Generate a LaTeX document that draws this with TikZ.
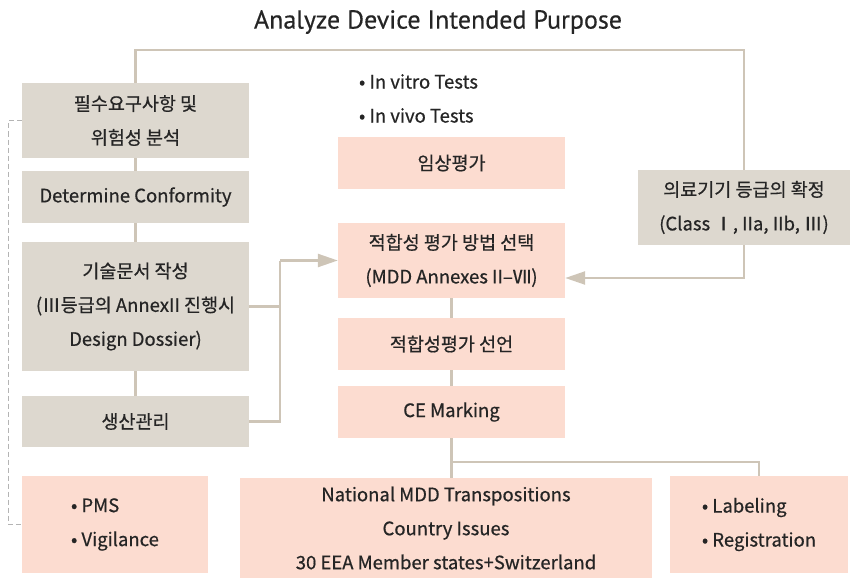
\documentclass[tikz,border=0pt]{standalone}
\usepackage{fontspec}
\setmainfont{Noto Sans CJK KR}[FakeBold=0.6]
\newfontfamily\titlefont{PT Sans}[FakeBold=0.4]
\usetikzlibrary{arrows.meta,calc}
\definecolor{boxgray}{HTML}{DDD8CF}
\definecolor{boxpink}{HTML}{FCDCD0}
\definecolor{linegray}{HTML}{CEC5B7}
\definecolor{dashgray}{HTML}{B4B4B4}
\definecolor{textgray}{HTML}{252525}
\tikzset{
  graybox/.style={fill=boxgray, text=textgray, align=center, inner sep=0pt, font=\fontsize{18.5}{34}\selectfont},
  pinkbox/.style={fill=boxpink, text=textgray, align=center, inner sep=0pt, font=\fontsize{18.5}{34}\selectfont},
  plaintext/.style={text=textgray, align=left, inner sep=0pt, font=\fontsize{18.5}{34}\selectfont},
  link/.style={draw=linegray, line width=2.4pt},
  linkarrow/.style={link, -{Triangle[length=20pt,width=13pt]}},
  dashlink/.style={draw=dashgray, line width=1.2pt, dash pattern=on 5pt off 3pt}
}

\begin{document}
\begin{tikzpicture}[x=1pt,y=-1pt]
		%%%%% START %%%%%
		\useasboundingbox (0,0) rectangle (856,583);
		
		\node[text=textgray, font=\titlefont\fontsize{26}{28}\selectfont] (title) at (438,22) {Analyze Device Intended Purpose};
		
		% left column
		\node[graybox, minimum width=227, minimum height=75] (req) at (135.5,120.5) {필수요구사항 및\\위험성 분석};
		\node[graybox, minimum width=227, minimum height=52] (conf) at (135.5,197) {Determine Conformity};
		\node[graybox, minimum width=227, minimum height=129] (doc) at (135.5,306.5) {기술문서 작성\\(Ⅲ등급의 AnnexII 진행시\\Design Dossier)};
		\node[graybox, minimum width=227, minimum height=51] (prod) at (135.5,421.5) {생산관리};
		
		% middle column
		\node[plaintext] (tests) at (418.5,98.5) {• In vitro Tests\\• In vivo Tests};
		\node[pinkbox, minimum width=227, minimum height=52] (clin) at (451.5,163) {임상평가};
		\node[pinkbox, minimum width=227, minimum height=75] (select) at (451.5,260.5) {적합성 평가 방법 선택\\(MDD Annexes II–Ⅶ)};
		\node[pinkbox, minimum width=227, minimum height=52] (decl) at (451.5,344) {적합성평가 선언};
		\node[pinkbox, minimum width=227, minimum height=52] (ce) at (451.5,412) {CE Marking};
		
		% right column
		\node[graybox, minimum width=212, minimum height=75] (cls) at (744,207.5) {의료기기 등급의 확정\\(Class Ⅰ, IIa, IIb, Ⅲ)};
		
		% bottom row
		\node[pinkbox, align=left, minimum width=186, minimum height=97] (pms) at (115,524.5) {• PMS\\• Vigilance};
		\node[pinkbox, minimum width=412, minimum height=100] (nat) at (446,528) {National MDD Transpositions\\Country Issues\\30 EEA Member states+Switzerland};
		\node[pinkbox, align=left, minimum width=178, minimum height=97] (lab) at (759,524.5) {• Labeling\\• Registration};
		
		\coordinate (join) at (280,260.5);
		\coordinate (split) at (451.5,462);
		
		% connectors
		\draw[link] (req.north) -- ++(0,-33) -| (cls.north);
		\draw[link] (req) -- (conf);
		\draw[link] (conf) -- (doc);
		\draw[link] (doc) -- (prod);
		\draw[link] (doc.east) -- (doc.east -| join);
		\draw[link] (prod.east) -| (join);
		\draw[linkarrow] (join) -- (select.west);
		\draw[linkarrow] (cls.south) |- ($(select.east)+(0,17.5)$);
		\draw[link] (select) -- (decl);
		\draw[link] (decl) -- (ce);
		\draw[link] (ce) -- (ce |- nat.north);
		\draw[link] (split) -| (lab.north);
		
		\draw[dashlink] (req.west) -- ++(-13,0) |- (pms.west);
		
		%%%%% END %%%%%
\end{tikzpicture}
\end{document}
